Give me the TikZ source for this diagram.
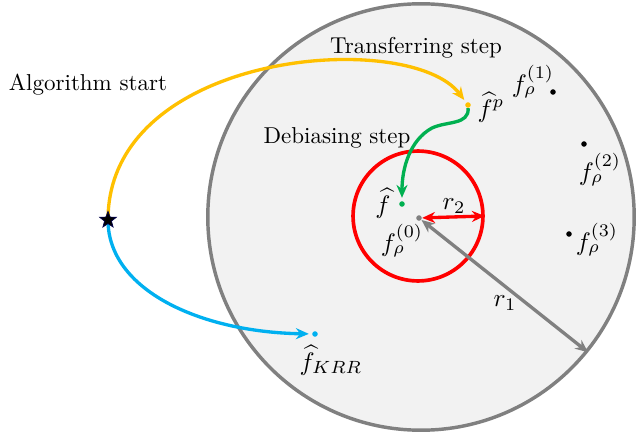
\documentclass[tikz,border=0pt]{standalone}
\usetikzlibrary{arrows.meta,shapes.geometric}
\definecolor{cyel}{RGB}{255,192,0}
\definecolor{cblue}{RGB}{0,176,240}
\definecolor{cgreen}{RGB}{0,176,80}
\definecolor{cred}{RGB}{255,0,0}
\definecolor{cgray}{RGB}{128,128,128}
\definecolor{cfill}{RGB}{242,242,242}
\tikzset{
  lbl/.style={inner sep=0pt},
  mlbl/.style={inner sep=0pt, scale=1.1, transform shape},
  dotnode/.style={circle, fill=#1, inner sep=0pt, minimum size=2.4pt},
  curvearrow/.style={line width=1.45pt, draw=#1, -{Stealth[length=5.6pt,width=4.8pt]}, shorten >=1.3pt},
  radarrow/.style={line width=1.45pt, draw=#1, {Stealth[length=5.6pt,width=4.8pt]}-{Stealth[length=5.6pt,width=4.8pt]}},
}
\begin{document}
\begin{tikzpicture}[x=0.435pt,y=-0.435pt]
\useasboundingbox (0,0) rectangle (640,436);
% circles
\node[circle, draw=cgray, fill=cfill, line width=1.5pt, minimum size=185.5pt, inner sep=0pt] (outer) at (421,217) {};
\node[circle, draw=cred, line width=1.6pt, minimum size=56.5pt, inner sep=0pt] (inner) at (418,216) {};
% points
\coordinate (start) at (108,220);
\node[dotnode=cyel] (fp) at (468,105) {};
\node[dotnode=cgreen] (fh) at (402,204) {};
\node[dotnode=cblue] (fk) at (315,334) {};
\node[dotnode=cgray] (c0) at (419,218) {};
\node[dotnode=black] (d1) at (553,92) {};
\node[dotnode=black] (d2) at (584,144) {};
\node[dotnode=black] (d3) at (569,234) {};
% curves
\draw[curvearrow=cyel] (start) .. controls (108,50) and (410,28) .. (fp);
\draw[curvearrow=cblue] (start) .. controls (108,290) and (200,332) .. (fk);
\draw[curvearrow=cgreen] (fp) .. controls (469,125) and (447,121) .. (432,128) .. controls (410,140) and (402,168) .. (fh);
% radii
\draw[radarrow=cred] (c0) -- (inner.0);
\draw[radarrow=cgray] (c0) -- (outer.-39);
% star
\node[star, star points=5, star point ratio=2.4, fill=black, draw=black!70!blue, line width=0.3pt, minimum size=7.6pt, inner sep=0pt] (st) at (start) {};
% labels
\node[lbl] (tAlg) at (88,85) {Algorithm start};
\node[lbl] (tTr) at (416,48) {Transferring step};
\node[lbl] (tDb) at (337,138) {Debiasing step};
\node[mlbl] (tfp) at (491,107) {$\widehat{f}^{p}$};
\node[mlbl] (t1) at (533,82) {$f_\rho^{(1)}$};
\node[mlbl] (t2) at (600,170) {$f_\rho^{(2)}$};
\node[mlbl] (t3) at (597,240) {$f_\rho^{(3)}$};
\node[mlbl] (tfh) at (383,203) {$\widehat{f}$};
\node[mlbl] (t0) at (402,241) {$f_\rho^{(0)}$};
\node[mlbl] (tr2) at (454,206) {$r_2$};
\node[mlbl] (tr1) at (505,303) {$r_1$};
\node[mlbl] (tk) at (331,360) {$\widehat{f}_{KRR}$};
\end{tikzpicture}
\end{document}
